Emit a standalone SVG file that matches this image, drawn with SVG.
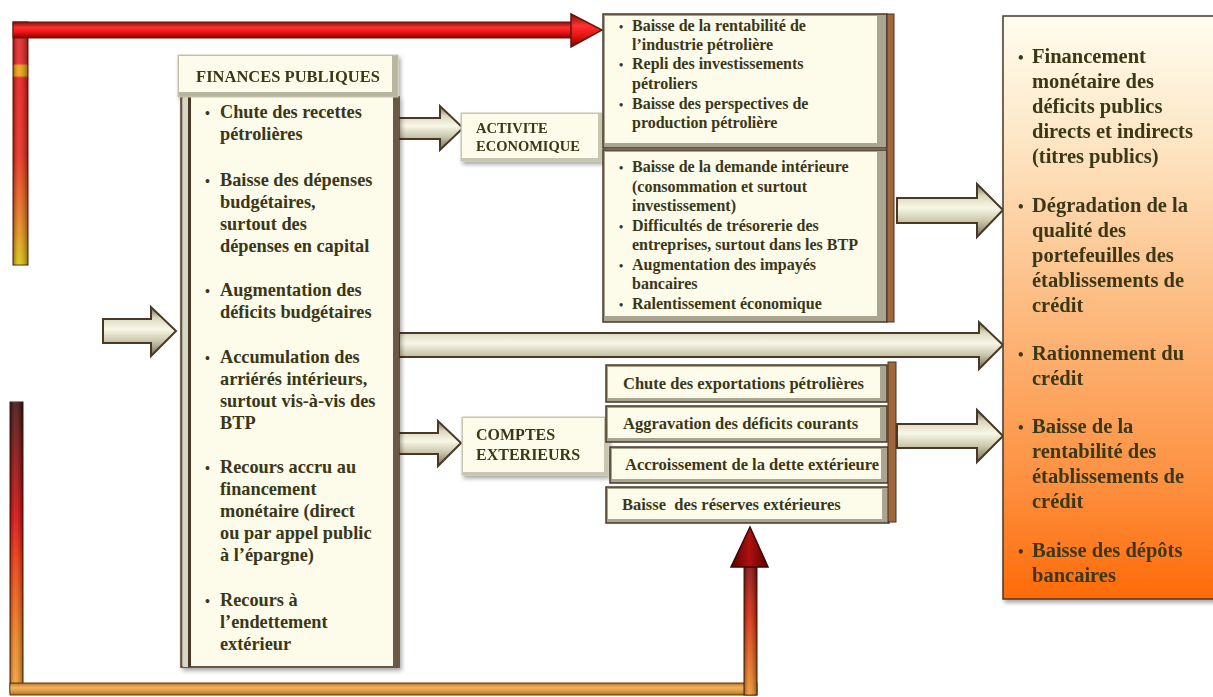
<svg xmlns="http://www.w3.org/2000/svg" width="1213" height="697" viewBox="0 0 1213 697">
<defs>
<style>
.t{font-family:"Liberation Serif","Times New Roman",serif;font-weight:bold;fill:#3a3719;white-space:pre}
.fp{font-size:18.3px}
.ac{font-size:16px}
.cx{font-size:16.5px}
.rb{font-size:20.5px}
.blk{fill:url(#gArrow);stroke:#4a3826;stroke-width:2;stroke-linejoin:miter}
.outer{fill:#a9a58e;stroke:#4a3826;stroke-width:1.5}
.inner{fill:#fdfbe9}
.bar{fill:#a0683a;stroke:#4a3020;stroke-width:1}
</style>
<linearGradient id="gArrow" x1="0" y1="0" x2="0" y2="1">
<stop offset="0" stop-color="#6f6c55"/>
<stop offset="0.22" stop-color="#d9d7bc"/>
<stop offset="0.45" stop-color="#f8f7e6"/>
<stop offset="0.7" stop-color="#c9c6aa"/>
<stop offset="1" stop-color="#6f6c55"/>
</linearGradient>
<linearGradient id="gRight" x1="0" y1="0" x2="0" y2="1">
<stop offset="0" stop-color="#fffdf0"/>
<stop offset="0.2" stop-color="#fde8c8"/>
<stop offset="0.5" stop-color="#fdbb80"/>
<stop offset="0.8" stop-color="#fd9040"/>
<stop offset="1" stop-color="#ff6a08"/>
</linearGradient>
<linearGradient id="gTopV" x1="0" y1="22" x2="0" y2="265" gradientUnits="userSpaceOnUse">
<stop offset="0" stop-color="#e41a1a"/>
<stop offset="0.17" stop-color="#e41a1a"/>
<stop offset="0.18" stop-color="#e8a000"/>
<stop offset="0.22" stop-color="#e8a000"/>
<stop offset="0.23" stop-color="#e81010"/>
<stop offset="0.55" stop-color="#e82010"/>
<stop offset="0.8" stop-color="#e87010"/>
<stop offset="1" stop-color="#d8c400"/>
</linearGradient>
<linearGradient id="gTopH" x1="0" y1="0" x2="0" y2="1">
<stop offset="0" stop-color="#8a0a0a"/>
<stop offset="0.35" stop-color="#ff3030"/>
<stop offset="0.65" stop-color="#e81414"/>
<stop offset="1" stop-color="#8a0000"/>
</linearGradient>
<linearGradient id="gShadeX" x1="0" y1="0" x2="1" y2="0">
<stop offset="0" stop-color="#000" stop-opacity="0.35"/>
<stop offset="0.4" stop-color="#fff" stop-opacity="0.15"/>
<stop offset="1" stop-color="#000" stop-opacity="0.35"/>
</linearGradient>
<linearGradient id="gShadeY" x1="0" y1="0" x2="0" y2="1">
<stop offset="0" stop-color="#000" stop-opacity="0.3"/>
<stop offset="0.4" stop-color="#fff" stop-opacity="0.2"/>
<stop offset="1" stop-color="#000" stop-opacity="0.3"/>
</linearGradient>
<linearGradient id="gBotL" x1="0" y1="402" x2="0" y2="695" gradientUnits="userSpaceOnUse">
<stop offset="0" stop-color="#3a0505"/>
<stop offset="0.4" stop-color="#d80000"/>
<stop offset="0.55" stop-color="#f03000"/>
<stop offset="0.8" stop-color="#f07a10"/>
<stop offset="1" stop-color="#f0a030"/>
</linearGradient>
<linearGradient id="gBotR" x1="0" y1="565" x2="0" y2="695" gradientUnits="userSpaceOnUse">
<stop offset="0" stop-color="#800000"/>
<stop offset="0.4" stop-color="#d82000"/>
<stop offset="1" stop-color="#f09020"/>
</linearGradient>
<linearGradient id="gHead" x1="0" y1="0" x2="1" y2="0">
<stop offset="0" stop-color="#5a0000"/>
<stop offset="0.5" stop-color="#b01010"/>
<stop offset="1" stop-color="#5a0000"/>
</linearGradient>
<filter id="sh" x="-10%" y="-10%" width="130%" height="130%">
<feGaussianBlur in="SourceAlpha" stdDeviation="2"/>
<feOffset dx="2" dy="3" result="b"/>
<feComponentTransfer><feFuncA type="linear" slope="0.35"/></feComponentTransfer>
<feMerge><feMergeNode/><feMergeNode in="SourceGraphic"/></feMerge>
</filter>
</defs>
<rect width="1213" height="697" fill="#fff"/>

<g id="connectors">
<rect x="13" y="22" width="15" height="243" fill="url(#gTopV)" stroke="#5a1a0a" stroke-width="1"/>
<rect x="13" y="22" width="15" height="243" fill="url(#gShadeX)"/>
<rect x="13" y="22" width="560" height="16" fill="url(#gTopH)" stroke="#5a1a0a" stroke-width="1"/>
<polygon points="571,14 602,30 571,47" fill="url(#gTopH)" stroke="#5a1a0a" stroke-width="1.5"/>
<rect x="10" y="402" width="13" height="291" fill="url(#gBotL)" stroke="#4a1a0a" stroke-width="1"/>
<rect x="10" y="402" width="13" height="291" fill="url(#gShadeX)"/>
<rect x="10" y="683" width="747" height="12" fill="#f2a030" stroke="#6a3a0a" stroke-width="1"/>
<rect x="10" y="683" width="747" height="12" fill="url(#gShadeY)"/>
<rect x="744" y="565" width="13" height="130" fill="url(#gBotR)" stroke="#4a1a0a" stroke-width="1"/>
<rect x="744" y="565" width="13" height="130" fill="url(#gShadeX)"/>
<polygon points="731,567 750,527 768,567" fill="url(#gHead)" stroke="#3a0505" stroke-width="1.5"/>
<polygon class="blk" points="103,319 151,319 151,307 176,331 151,356 151,343 103,343"/>
<polygon class="blk" points="397,118 440,118 440,106 463,128 440,150 440,139 397,139"/>
<polygon class="blk" points="397,433 438,433 438,421 461,443 438,466 438,454 397,454"/>
<polygon class="blk" points="399,333 979,333 979,322 1003,345 979,369 979,357 399,357"/>
<polygon class="blk" points="897,198 977,198 977,184 1003,210 977,237 977,223 897,223"/>
<polygon class="blk" points="897,424 977,424 977,410 1003,436 977,462 977,448 897,448"/>
</g>

<g id="finances-publiques" filter="url(#sh)">
<rect x="181" y="97" width="218" height="570" fill="#b3af98" stroke="#4a3826" stroke-width="1.5"/>
<rect x="183" y="97" width="5" height="570" fill="#d8d6c4"/>
<rect x="191" y="97" width="202" height="569" fill="#fdfbe9"/>
<rect x="393" y="97" width="6" height="570" fill="#6a5a44"/>
<rect x="188" y="97" width="3" height="570" fill="#4a3826"/>
<rect x="178" y="55" width="220" height="42" fill="#b9b69f" stroke="#c8c6b0" stroke-width="1"/>
<rect x="179" y="56" width="213" height="36" fill="#fdfbe9"/>
<text class="t" x="288" y="82" text-anchor="middle" font-size="16.5">FINANCES PUBLIQUES</text>
</g>
<g id="fp-text">
<g class="t fp">
<text x="205" y="118" font-size="14">•</text><text x="220" y="118">Chute des recettes</text>
<text x="220" y="140">pétrolières</text>
<text x="205" y="186" font-size="14">•</text><text x="220" y="186">Baisse des dépenses</text>
<text x="220" y="208">budgétaires,</text>
<text x="220" y="230">surtout des</text>
<text x="220" y="252">dépenses en capital</text>
<text x="205" y="296" font-size="14">•</text><text x="220" y="296">Augmentation des</text>
<text x="220" y="318">déficits budgétaires</text>
<text x="205" y="363" font-size="14">•</text><text x="220" y="363">Accumulation des</text>
<text x="220" y="385">arriérés intérieurs,</text>
<text x="220" y="407">surtout vis-à-vis des</text>
<text x="220" y="429">BTP</text>
<text x="205" y="473" font-size="14">•</text><text x="220" y="473">Recours accru au</text>
<text x="220" y="495">financement</text>
<text x="220" y="517">monétaire (direct</text>
<text x="220" y="539">ou par appel public</text>
<text x="220" y="561">à l’épargne)</text>
<text x="205" y="606" font-size="14">•</text><text x="220" y="606">Recours à</text>
<text x="220" y="628">l’endettement</text>
<text x="220" y="650">extérieur</text>
</g>
</g>

<g id="activite-economique" filter="url(#sh)">
<rect x="461" y="113" width="141" height="48" fill="#c9c6b0" stroke="#c8c6b0"/>
<rect x="462" y="114" width="136" height="44" fill="#fdfbe9"/>
<text class="t" x="476" y="133" font-size="14.5">ACTIVITE</text>
<text class="t" x="476" y="151" font-size="14.5">ECONOMIQUE</text>
</g>

<g id="comptes-exterieurs" filter="url(#sh)">
<rect x="462" y="417" width="146" height="58" fill="#c9c6b0" stroke="#c8c6b0"/>
<rect x="463" y="418" width="141" height="54" fill="#fdfbe9"/>
<text class="t" x="476" y="440" font-size="16">COMPTES</text>
<text class="t" x="476" y="460" font-size="16">EXTERIEURS</text>
</g>

<g id="activite-petrole">
<rect x="603" y="14" width="284" height="134" class="outer"/>
<rect x="605" y="16" width="272" height="127" class="inner"/>
<g class="t ac">
<text x="619" y="31" font-size="12">•</text><text x="632" y="31">Baisse  de la rentabilité de</text>
<text x="632" y="50">l’industrie pétrolière</text>
<text x="619" y="69" font-size="12">•</text><text x="632" y="69">Repli des investissements</text>
<text x="632" y="89">pétroliers</text>
<text x="619" y="109" font-size="12">•</text><text x="632" y="109">Baisse des perspectives de</text>
<text x="632" y="128">production pétrolière</text>
</g>
</g>

<g id="activite-demande">
<rect x="603" y="150" width="284" height="172" class="outer"/>
<rect x="605" y="152" width="272" height="164" class="inner"/>
<g class="t ac">
<text x="619" y="172" font-size="12">•</text><text x="632" y="172">Baisse  de la demande intérieure</text>
<text x="632" y="192">(consommation et surtout</text>
<text x="632" y="211">investissement)</text>
<text x="619" y="231" font-size="12">•</text><text x="632" y="231">Difficultés de trésorerie  des</text>
<text x="632" y="250">entreprises, surtout dans les BTP</text>
<text x="619" y="270" font-size="12">•</text><text x="632" y="270">Augmentation des impayés</text>
<text x="632" y="289">bancaires</text>
<text x="619" y="309" font-size="12">•</text><text x="632" y="309">Ralentissement économique</text>
</g>
<rect x="887" y="14" width="7" height="308" class="bar"/>
</g>

<g id="comptes-exportations">
<rect x="606" y="365" width="281" height="37" class="outer"/>
<rect x="608" y="367" width="272" height="31" class="inner"/>
<text class="t cx" x="623" y="389">Chute des exportations pétrolières</text>
</g>
<g id="comptes-deficits">
<rect x="606" y="406" width="281" height="36" class="outer"/>
<rect x="608" y="408" width="272" height="30" class="inner"/>
<text class="t cx" x="623" y="429">Aggravation des déficits courants</text>
</g>
<g id="comptes-dette">
<rect x="610" y="447" width="278" height="36" class="outer"/>
<rect x="612" y="449" width="269" height="30" class="inner"/>
<text class="t cx" x="625" y="470">Accroissement de la dette extérieure</text>
</g>
<g id="comptes-reserves">
<rect x="606" y="487" width="283" height="36" class="outer"/>
<rect x="608" y="489" width="274" height="30" class="inner"/>
<text class="t cx" x="622" y="510">Baisse  des réserves extérieures</text>
<rect x="888" y="362" width="8" height="160" class="bar"/>
</g>

<g id="secteur-bancaire" filter="url(#sh)">
<rect x="1003" y="16" width="215" height="583" fill="url(#gRight)" stroke="#4a3826" stroke-width="1.5"/>
<g class="t rb">
<text x="1018" y="63" font-size="16">•</text><text x="1032" y="63">Financement</text>
<text x="1032" y="88">monétaire des</text>
<text x="1032" y="113">déficits publics</text>
<text x="1032" y="138">directs et indirects</text>
<text x="1032" y="163">(titres publics)</text>
<text x="1018" y="212" font-size="16">•</text><text x="1032" y="212">Dégradation de la</text>
<text x="1032" y="237">qualité des</text>
<text x="1032" y="262">portefeuilles des</text>
<text x="1032" y="287">établissements de</text>
<text x="1032" y="312">crédit</text>
<text x="1018" y="360" font-size="16">•</text><text x="1032" y="360">Rationnement du</text>
<text x="1032" y="385">crédit</text>
<text x="1018" y="433" font-size="16">•</text><text x="1032" y="433">Baisse de la</text>
<text x="1032" y="458">rentabilité  des</text>
<text x="1032" y="483">établissements de</text>
<text x="1032" y="508">crédit</text>
<text x="1018" y="557" font-size="16">•</text><text x="1032" y="557">Baisse des dépôts</text>
<text x="1032" y="582">bancaires</text>
</g>
</g>
</svg>
